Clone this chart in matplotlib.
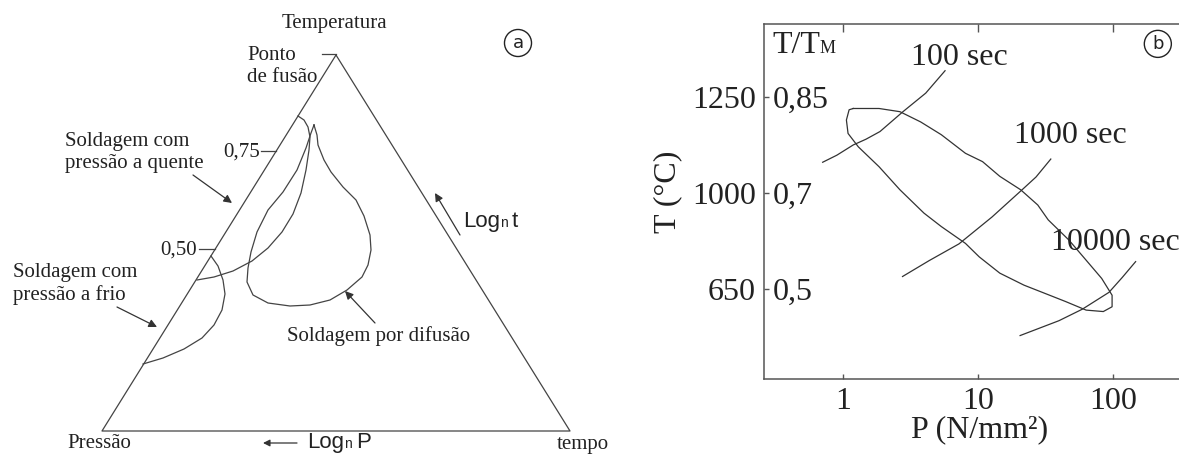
import numpy as np
import matplotlib.pyplot as plt
from matplotlib.ticker import NullLocator

plt.rcParams['font.family'] = ['Liberation Serif', 'DejaVu Serif']

# ---- panel (a): schematic triangle, drawing units = pixels (y grows downward)
tri_x = [336, 102, 570, 336]
tri_y = [55, 431, 431, 55]

hot_x = [298, 304, 308, 310, 309, 306, 301, 293, 282, 268, 252, 233, 214, 197]
hot_y = [116, 120, 127, 137, 150, 170, 193, 214, 232, 248, 261, 271, 277, 280]

cold_x = [211, 218, 223, 225, 222, 214, 202, 184, 163, 143]
cold_y = [256, 266, 280, 294, 310, 325, 338, 349, 358, 364]

diff_x = [314, 317, 318, 324, 331, 343, 356, 364, 370, 371, 368, 362, 347, 330,
          310, 290, 268, 253, 247, 248, 251, 257, 268, 283, 297, 306, 311, 314]
diff_y = [125, 135, 145, 160, 172, 187, 200, 216, 235, 250, 265, 277, 290, 300,
          305, 306, 303, 295, 282, 268, 252, 232, 210, 192, 170, 148, 133, 125]

# ---- panel (b): P (N/mm2) vs T/Tm
loop_p = [1.19, 1.85, 2.64, 3.76, 5.35, 8.07, 10.8, 14.5, 20.7, 27.7, 33.1, 47.1,
          63.2, 82.4, 98.4, 98.4, 84.7, 63.2, 44.4, 31.2, 21.9, 14.5, 10.2, 8.07,
          5.35, 3.98, 2.64, 1.85, 1.30, 1.09, 1.06, 1.11, 1.19]
loop_t = [0.832, 0.832, 0.827, 0.811, 0.791, 0.762, 0.749, 0.726, 0.705, 0.675,
          0.644, 0.602, 0.560, 0.522, 0.487, 0.463, 0.453, 0.456, 0.474, 0.491,
          0.508, 0.533, 0.567, 0.595, 0.630, 0.658, 0.705, 0.741, 0.772, 0.793,
          0.814, 0.830, 0.832]

sec100_p = [0.707, 0.90, 1.19, 1.48, 1.88, 2.78, 4.10, 5.70]
sec100_t = [0.748, 0.759, 0.775, 0.784, 0.796, 0.827, 0.856, 0.891]

sec1000_p = [2.76, 4.34, 7.23, 12.7, 21.2, 26.9, 34.6]
sec1000_t = [0.526, 0.559, 0.594, 0.650, 0.705, 0.725, 0.753]

sec10000_p = [20.5, 39.8, 59.3, 93.3, 117, 147]
sec10000_t = [0.403, 0.434, 0.458, 0.493, 0.524, 0.557]

tm_ticks = [0.5, 0.7, 0.85]
tm_labels = ['0,5', '0,7', '0,85']
temp_labels = ['650', '1000', '1250']
p_ticks = [1, 10, 100]

LC = '#444444'
TC = '#222222'


def sub_label(ax, x, y, main, sub, tail, family, size, subsize, d1, d2, **kw):
    t1 = ax.text(x, y, main, fontfamily=family, fontsize=size, va='baseline', color=TC, **kw)
    t2 = ax.annotate(sub, xy=(1, 0), xycoords=t1, xytext=(0, d1), textcoords='offset points',
                     fontfamily=family, fontsize=subsize, va='baseline', color=TC)
    if tail:
        ax.annotate(tail, xy=(1, 0), xycoords=t2, xytext=(3, d2), textcoords='offset points',
                    fontfamily=family, fontsize=size, va='baseline', color=TC)


def arrow(ax, start, end, ms=12):
    ax.annotate('', xy=end, xytext=start,
                arrowprops=dict(arrowstyle='-|>', color='#333333', lw=0.9,
                                mutation_scale=ms, shrinkA=0, shrinkB=0))


fig = plt.figure(figsize=(11.79, 4.54), dpi=100)

# ------------------------------------------------------------ panel a
axa = fig.add_axes([0, 0, 640 / 1179, 1])
axa.set_xlim(0, 640)
axa.set_ylim(454, 0)
axa.axis('off')

axa.plot(tri_x, tri_y, color=LC, lw=0.9)
axa.plot(hot_x, hot_y, color=LC, lw=0.9)
axa.plot(cold_x, cold_y, color=LC, lw=0.9)
axa.plot(diff_x, diff_y, color=LC, lw=0.9)
# small marks on the left side
axa.plot([322, 336], [54, 54], color=LC, lw=0.9)
axa.plot([261, 276], [151, 151], color=LC, lw=0.9)
axa.plot([199, 215], [249, 249], color=LC, lw=0.9)

fs = 15
axa.text(334, 28, 'Temperatura', ha='center', va='baseline', fontsize=fs, color=TC)
axa.text(247, 60, 'Ponto', va='baseline', fontsize=fs, color=TC)
axa.text(247, 82, 'de fusão', va='baseline', fontsize=fs, color=TC)
axa.text(260, 157, '0,75', ha='right', va='baseline', fontsize=fs, color=TC)
axa.text(197, 255, '0,50', ha='right', va='baseline', fontsize=fs, color=TC)
axa.text(65, 146, 'Soldagem com', va='baseline', fontsize=fs, color=TC)
axa.text(65, 168, 'pressão a quente', va='baseline', fontsize=fs, color=TC)
axa.text(13, 277, 'Soldagem com', va='baseline', fontsize=fs, color=TC)
axa.text(13, 300, 'pressão a frio', va='baseline', fontsize=fs, color=TC)
axa.text(287, 341, 'Soldagem por difusão', va='baseline', fontsize=fs, color=TC)
axa.text(67, 448, 'Pressão', va='baseline', fontsize=fs, color=TC)
axa.text(557, 449, 'tempo', va='baseline', fontsize=fs, color=TC)

sub_label(axa, 463, 227, 'Log', 'n', 't', 'Liberation Sans', 16, 10, 3.4, 2.1)
sub_label(axa, 307, 448, 'Log', 'n', 'P', 'Liberation Sans', 16, 10, 3.4, 2.1)

arrow(axa, (193, 175), (232, 203))
arrow(axa, (117, 307), (157, 327))
arrow(axa, (375, 323), (345, 291))
arrow(axa, (460, 235), (435, 193))
arrow(axa, (297, 443), (263, 443), ms=10)

axa.text(518, 43, 'a', ha='center', va='center', fontfamily='DejaVu Sans', fontsize=13,
         color=TC, bbox=dict(boxstyle='circle,pad=0.25', fc='none', ec='#222222', lw=1))

# ------------------------------------------------------------ panel b
def fwd(v):
    v = np.asarray(v, float)
    return np.where(v < 0.7, (v - 0.5) / 0.2, 1 + (v - 0.7) / 0.15)


def inv(u):
    u = np.asarray(u, float)
    return np.where(u < 1, 0.5 + 0.2 * u, 0.7 + 0.15 * (u - 1))


axb = fig.add_axes([764 / 1179, 75 / 454, 415 / 1179, 355 / 454])
axb.set_xscale('log')
axb.set_yscale('function', functions=(fwd, inv))
axb.set_xlim(0.26, 308)
axb.set_ylim(0.3125, 0.964)

axb.plot(loop_p, loop_t, color='#333333', lw=0.9)
axb.plot(sec100_p, sec100_t, color='#333333', lw=0.9)
axb.plot(sec1000_p, sec1000_t, color='#333333', lw=0.9)
axb.plot(sec10000_p, sec10000_t, color='#333333', lw=0.9)

bs = 23
axb.text(3.19, 0.900, '100 sec', fontsize=bs, va='baseline', color=TC)
axb.text(18.5, 0.778, '1000 sec', fontsize=bs, va='baseline', color=TC)
axb.text(34.7, 0.581, '10000 sec', fontsize=bs, va='baseline', color=TC)
sub_label(axb, 0.298, 0.919, 'T/T', 'M', '', 'Liberation Serif', bs, 13, 5.0, 0)

for sp in ['top', 'bottom', 'left']:
    axb.spines[sp].set_color('#555555')
    axb.spines[sp].set_linewidth(1.1)
axb.spines['right'].set_visible(False)

axb.set_xticks(p_ticks, [str(p) for p in p_ticks])
axb.set_yticks(tm_ticks, temp_labels)
axb.xaxis.set_minor_locator(NullLocator())
axb.yaxis.set_minor_locator(NullLocator())
axb.tick_params(axis='x', direction='in', top=True, length=3.6, width=1, color='#555555',
                labelsize=bs, pad=6, labelcolor=TC)
for t in axb.xaxis.get_major_ticks():
    t.tick2line.set_markersize(6)
axb.tick_params(axis='y', direction='in', length=3.5, width=1, color='#555555',
                labelsize=bs, pad=6, labelcolor=TC)

for v, lbl in zip(tm_ticks, tm_labels):
    axb.annotate(lbl, xy=(0, v), xycoords=('axes fraction', 'data'), xytext=(6, 0),
                 textcoords='offset points', ha='left', va='center_baseline',
                 fontsize=bs, color=TC)

axb.set_xlabel('P (N/mm²)', fontsize=bs, color=TC)
axb.xaxis.label.set_va('center')
axb.xaxis.set_label_coords(0.5205, -0.142)
axb.set_ylabel('T (°C)', fontsize=bs, color=TC)
axb.yaxis.label.set_va('center')
axb.yaxis.set_label_coords(-0.231, 0.527)

axb.text(0.949, 0.944, 'b', transform=axb.transAxes, ha='center', va='center',
         fontfamily='DejaVu Sans', fontsize=13, color=TC,
         bbox=dict(boxstyle='circle,pad=0.25', fc='none', ec='#222222', lw=1))

fig.savefig('out.png', dpi=100)
